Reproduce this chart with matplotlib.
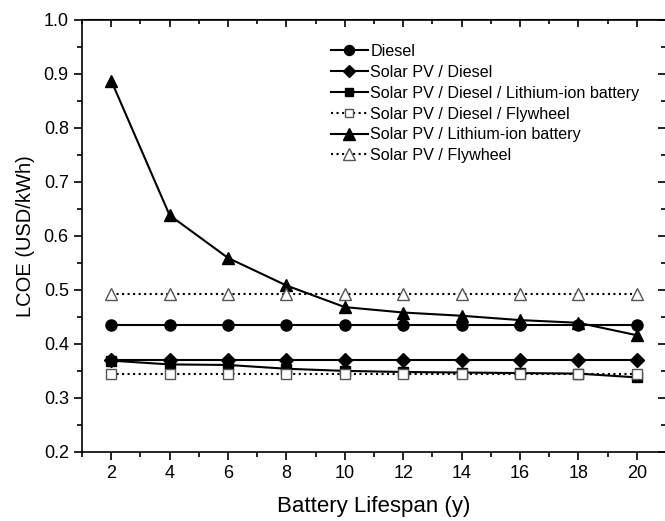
import matplotlib.pyplot as plt
import numpy as np
from matplotlib.ticker import MultipleLocator

plt.rcParams['font.family'] = ['Liberation Sans', 'DejaVu Sans']

lifespan = [2, 4, 6, 8, 10, 12, 14, 16, 18, 20]
diesel = [0.434] * 10
pv_diesel = [0.371] * 10
pv_diesel_li = [0.369, 0.362, 0.361, 0.354, 0.350, 0.348, 0.347, 0.346, 0.345, 0.338]
pv_diesel_fw = [0.345] * 10
pv_li = [0.887, 0.638, 0.559, 0.508, 0.468, 0.458, 0.452, 0.444, 0.439, 0.416]
pv_fw = [0.493] * 10

fig = plt.figure(figsize=(6.65, 5.21), dpi=100)
ax = fig.add_axes([82/665, 1 - 452/521, (666 - 82)/665, (452 - 19.5)/521])

ms = 8
ax.plot(lifespan, diesel, '-', color='k', lw=1.5, marker='o', ms=ms, label='Diesel')
ax.plot(lifespan, pv_diesel, '-', color='k', lw=1.5, marker='D', ms=ms - 1, label='Solar PV / Diesel')
ax.plot(lifespan, pv_diesel_li, '-', color='k', lw=1.5, marker='s', ms=ms - 1,
        label='Solar PV / Diesel / Lithium-ion battery')
ax.plot(lifespan, pv_diesel_fw, ':', color='k', lw=1.5, marker='s', ms=ms - 1,
        mfc='white', mec='#555555', mew=1, label='Solar PV / Diesel / Flywheel')
ax.plot(lifespan, pv_li, '-', color='k', lw=1.5, marker='^', ms=ms + 1,
        label='Solar PV / Lithium-ion battery')
ax.plot(lifespan, pv_fw, ':', color='k', lw=1.5, marker='^', ms=ms + 1,
        mfc='white', mec='#555555', mew=1, label='Solar PV / Flywheel')

ax.set_xlim(1, 21)
ax.set_ylim(0.2, 1.0)
ax.xaxis.set_major_locator(MultipleLocator(2))
ax.xaxis.set_minor_locator(MultipleLocator(1))
ax.yaxis.set_major_locator(MultipleLocator(0.1))
ax.yaxis.set_minor_locator(MultipleLocator(0.05))
ax.yaxis.set_major_formatter(plt.FuncFormatter(lambda v, p: f'{v:.1f}'))

ax.tick_params(which='both', direction='out', top=False, right=False, labelsize=13, width=1.2)
ax.tick_params(which='major', length=6)
ax.tick_params(which='minor', length=3.5)
for s in ax.spines.values():
    s.set_linewidth(1.2)

# inward ticks on top and right
sec_x = ax.secondary_xaxis('top')
sec_x.xaxis.set_major_locator(MultipleLocator(2))
sec_x.xaxis.set_minor_locator(MultipleLocator(1))
sec_x.tick_params(which='both', direction='in', labeltop=False, width=1.2)
sec_x.tick_params(which='major', length=6)
sec_x.tick_params(which='minor', length=3.5)
sec_y = ax.secondary_yaxis('right')
sec_y.yaxis.set_major_locator(MultipleLocator(0.1))
sec_y.yaxis.set_minor_locator(MultipleLocator(0.05))
sec_y.tick_params(which='both', direction='in', labelright=False, width=1.2)
sec_y.tick_params(which='major', length=6)
sec_y.tick_params(which='minor', length=3.5)

ax.set_xlabel('Battery Lifespan (y)', fontsize=16, labelpad=10)
ax.set_ylabel('LCOE (USD/kWh)', fontsize=14.5, labelpad=6)

ax.legend(loc='upper left', bbox_to_anchor=(0.415, 0.958), frameon=False, fontsize=11.6,
          handlelength=2.3, handletextpad=0.15, labelspacing=0.36, borderaxespad=0,
          markerscale=0.9)

fig.savefig('out.png', dpi=100)
